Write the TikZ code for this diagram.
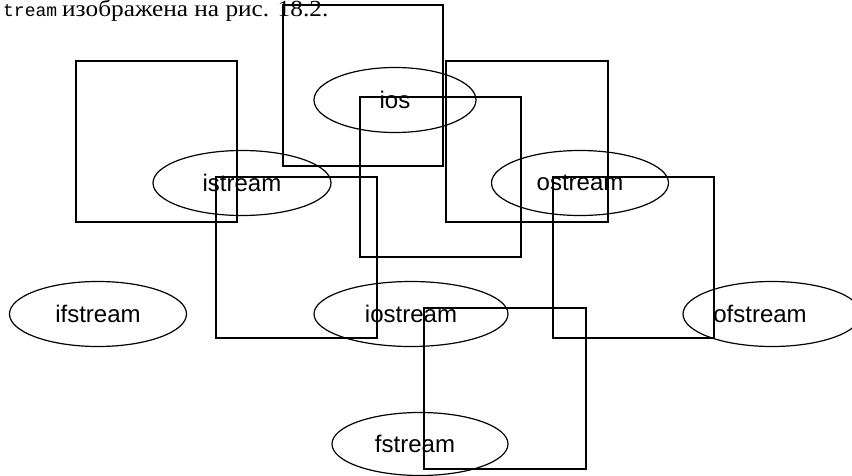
\documentclass[tikz,border=0pt]{standalone}
\usepackage{graphicx}
\usepackage{fontspec}
\setmainfont{Liberation Serif}
\newfontfamily\lsans{Liberation Sans}
\newfontfamily\lmono{Liberation Mono}
\usetikzlibrary{shapes.geometric}
\tikzset{
  ell/.style={draw, ellipse, inner sep=0pt, line width=1.2pt,
    minimum height=65pt, font=\lsans\fontsize{24}{28}\selectfont},
  sq/.style={draw, line width=1.2pt},
  captxt/.style={anchor=base west, inner sep=0pt}
}
\begin{document}
\begin{tikzpicture}[x=1pt,y=-1pt]
\useasboundingbox (0,0) rectangle (852,476);
% caption fragment
\node[captxt, font=\lmono\fontsize{18}{20}\selectfont] (capmono) at (3,17) {tream};
\node[captxt, font=\fontsize{23}{26}\selectfont] (capserif) at (62,17)
  {\scalebox{1.1}[1]{изображена на рис. 18.2.}};
% squares
\draw[sq] (76,61) rectangle (237,222);
\draw[sq] (283,5) rectangle (443,166);
\draw[sq] (360,97) rectangle (521,257);
\draw[sq] (446,61) rectangle (608,222);
\draw[sq] (216,177) rectangle (377,338);
\draw[sq] (553,177) rectangle (714,338);
\draw[sq] (424,308) rectangle (586,469);
% ellipses
\node[ell, minimum width=162pt] (ios) at (395,100) {ios};
\node[ell, minimum width=178pt] (istream) at (242,183) {istream};
\node[ell, minimum width=177pt] (ostream) at (580,183) {ostream};
\node[ell, minimum width=177pt] (ifstream) at (98,314) {ifstream};
\node[ell, minimum width=194pt] (iostream) at (411,314) {iostream};
\node[ell, minimum width=178pt] (ofstream) at (772,314) {\hspace*{-24pt}ofstream};
\node[ell, minimum width=176pt, minimum height=63pt] (fstream) at (420,444) {\hspace*{-10pt}fstream};
\end{tikzpicture}
\end{document}
